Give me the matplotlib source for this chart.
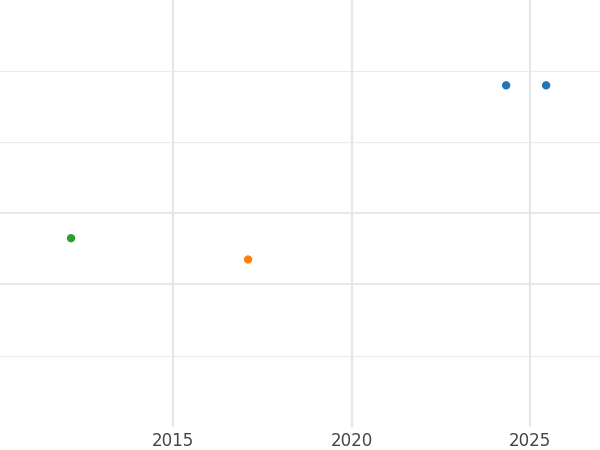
import matplotlib
matplotlib.use('Agg')
from matplotlib import pyplot as plt

# data
years = [2024.33, 2025.45, 2017.1, 2012.14]
values = [4.8, 4.8, 2.35, 2.65]
colors = ['#1f77b4', '#1f77b4', '#ff7f0e', '#2ca02c']
xticks = [2015, 2020, 2025]

fig = plt.figure(figsize=(6, 4.5), dpi=100)
ax = fig.add_axes([0, 0.052, 1, 0.948])
ax.set_xlim(2010.15, 2026.96)
ax.set_ylim(0, 6)

for y in [1, 4, 5]:
    ax.axhline(y, color='#ebebeb', lw=0.8, zorder=0)
for y in [2, 3]:
    ax.axhline(y, color='#e6e6e6', lw=1.3, zorder=0)
for x in xticks:
    ax.axvline(x, color='#e6e6e6', lw=1.5, zorder=0)

ax.scatter(years, values, c=colors, s=36, zorder=3, edgecolors='none')

ax.set_xticks(xticks)
ax.set_xticklabels([str(x) for x in xticks], fontsize=12, color='#444444')
ax.tick_params(axis='x', length=0, pad=4)
ax.set_yticks([])
for s in ax.spines.values():
    s.set_visible(False)

fig.savefig('out.png')
